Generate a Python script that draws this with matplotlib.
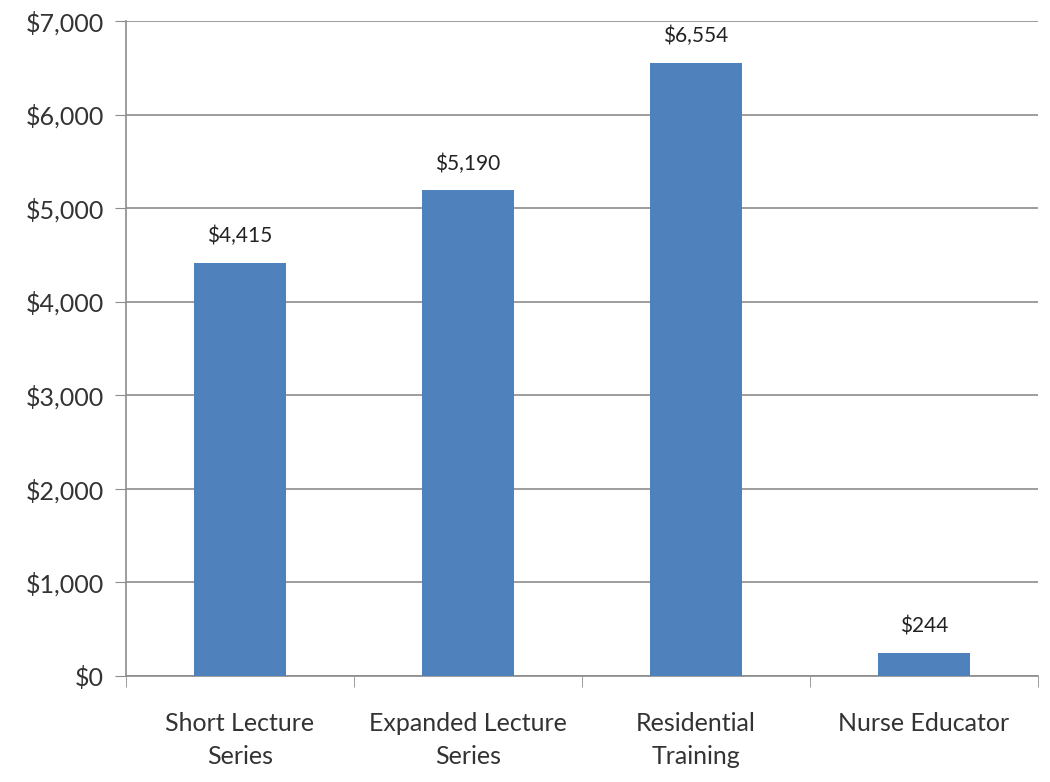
import matplotlib.pyplot as plt
import numpy as np
from matplotlib.ticker import FuncFormatter, FixedLocator

categories = ["Short Lecture\nSeries", "Expanded Lecture\nSeries", "Residential\nTraining", "Nurse Educator"]
values = [4415, 5190, 6554, 244]
y_ticks = [0, 1000, 2000, 3000, 4000, 5000, 6000, 7000]

plt.rcParams["font.family"] = ["Lato", "DejaVu Sans"]

fig = plt.figure(figsize=(10.5, 7.82), dpi=100)
ax = fig.add_axes([0.12, 0.1355, 0.8686, 0.8375])

x = np.arange(len(categories))
ax.bar(x, values, width=0.4, color="#4F81BD", zorder=3)
for xi, v in zip(x, values):
    ax.text(xi, v + 180, f"${v:,}", ha="center", va="bottom", fontsize=15, color="#222222")

ax.set_xlim(-0.5, len(categories) - 0.5)
ax.set_ylim(0, 7000)
ax.set_yticks(y_ticks)
ax.yaxis.set_major_formatter(FuncFormatter(lambda v, p: f"${v:,.0f}"))
ax.grid(axis="y", color="#8c8c8c", linewidth=1.2, zorder=0)

ax.set_xticks(x)
ax.set_xticklabels(categories, fontsize=18, color="#333333", linespacing=1.5)
ax.xaxis.set_minor_locator(FixedLocator(np.arange(-0.5, len(categories), 1.0)))
ax.tick_params(axis="x", which="major", length=0, pad=26)
ax.tick_params(axis="x", which="minor", length=8, color="#8c8c8c", direction="out")
ax.tick_params(axis="y", labelsize=18, labelcolor="#333333", length=8, color="#8c8c8c", pad=8)

for s in ["top", "right"]:
    ax.spines[s].set_visible(False)
for s in ["left", "bottom"]:
    ax.spines[s].set_color("#8c8c8c")
    ax.spines[s].set_linewidth(1.2)

fig.savefig("out.png", dpi=100)
